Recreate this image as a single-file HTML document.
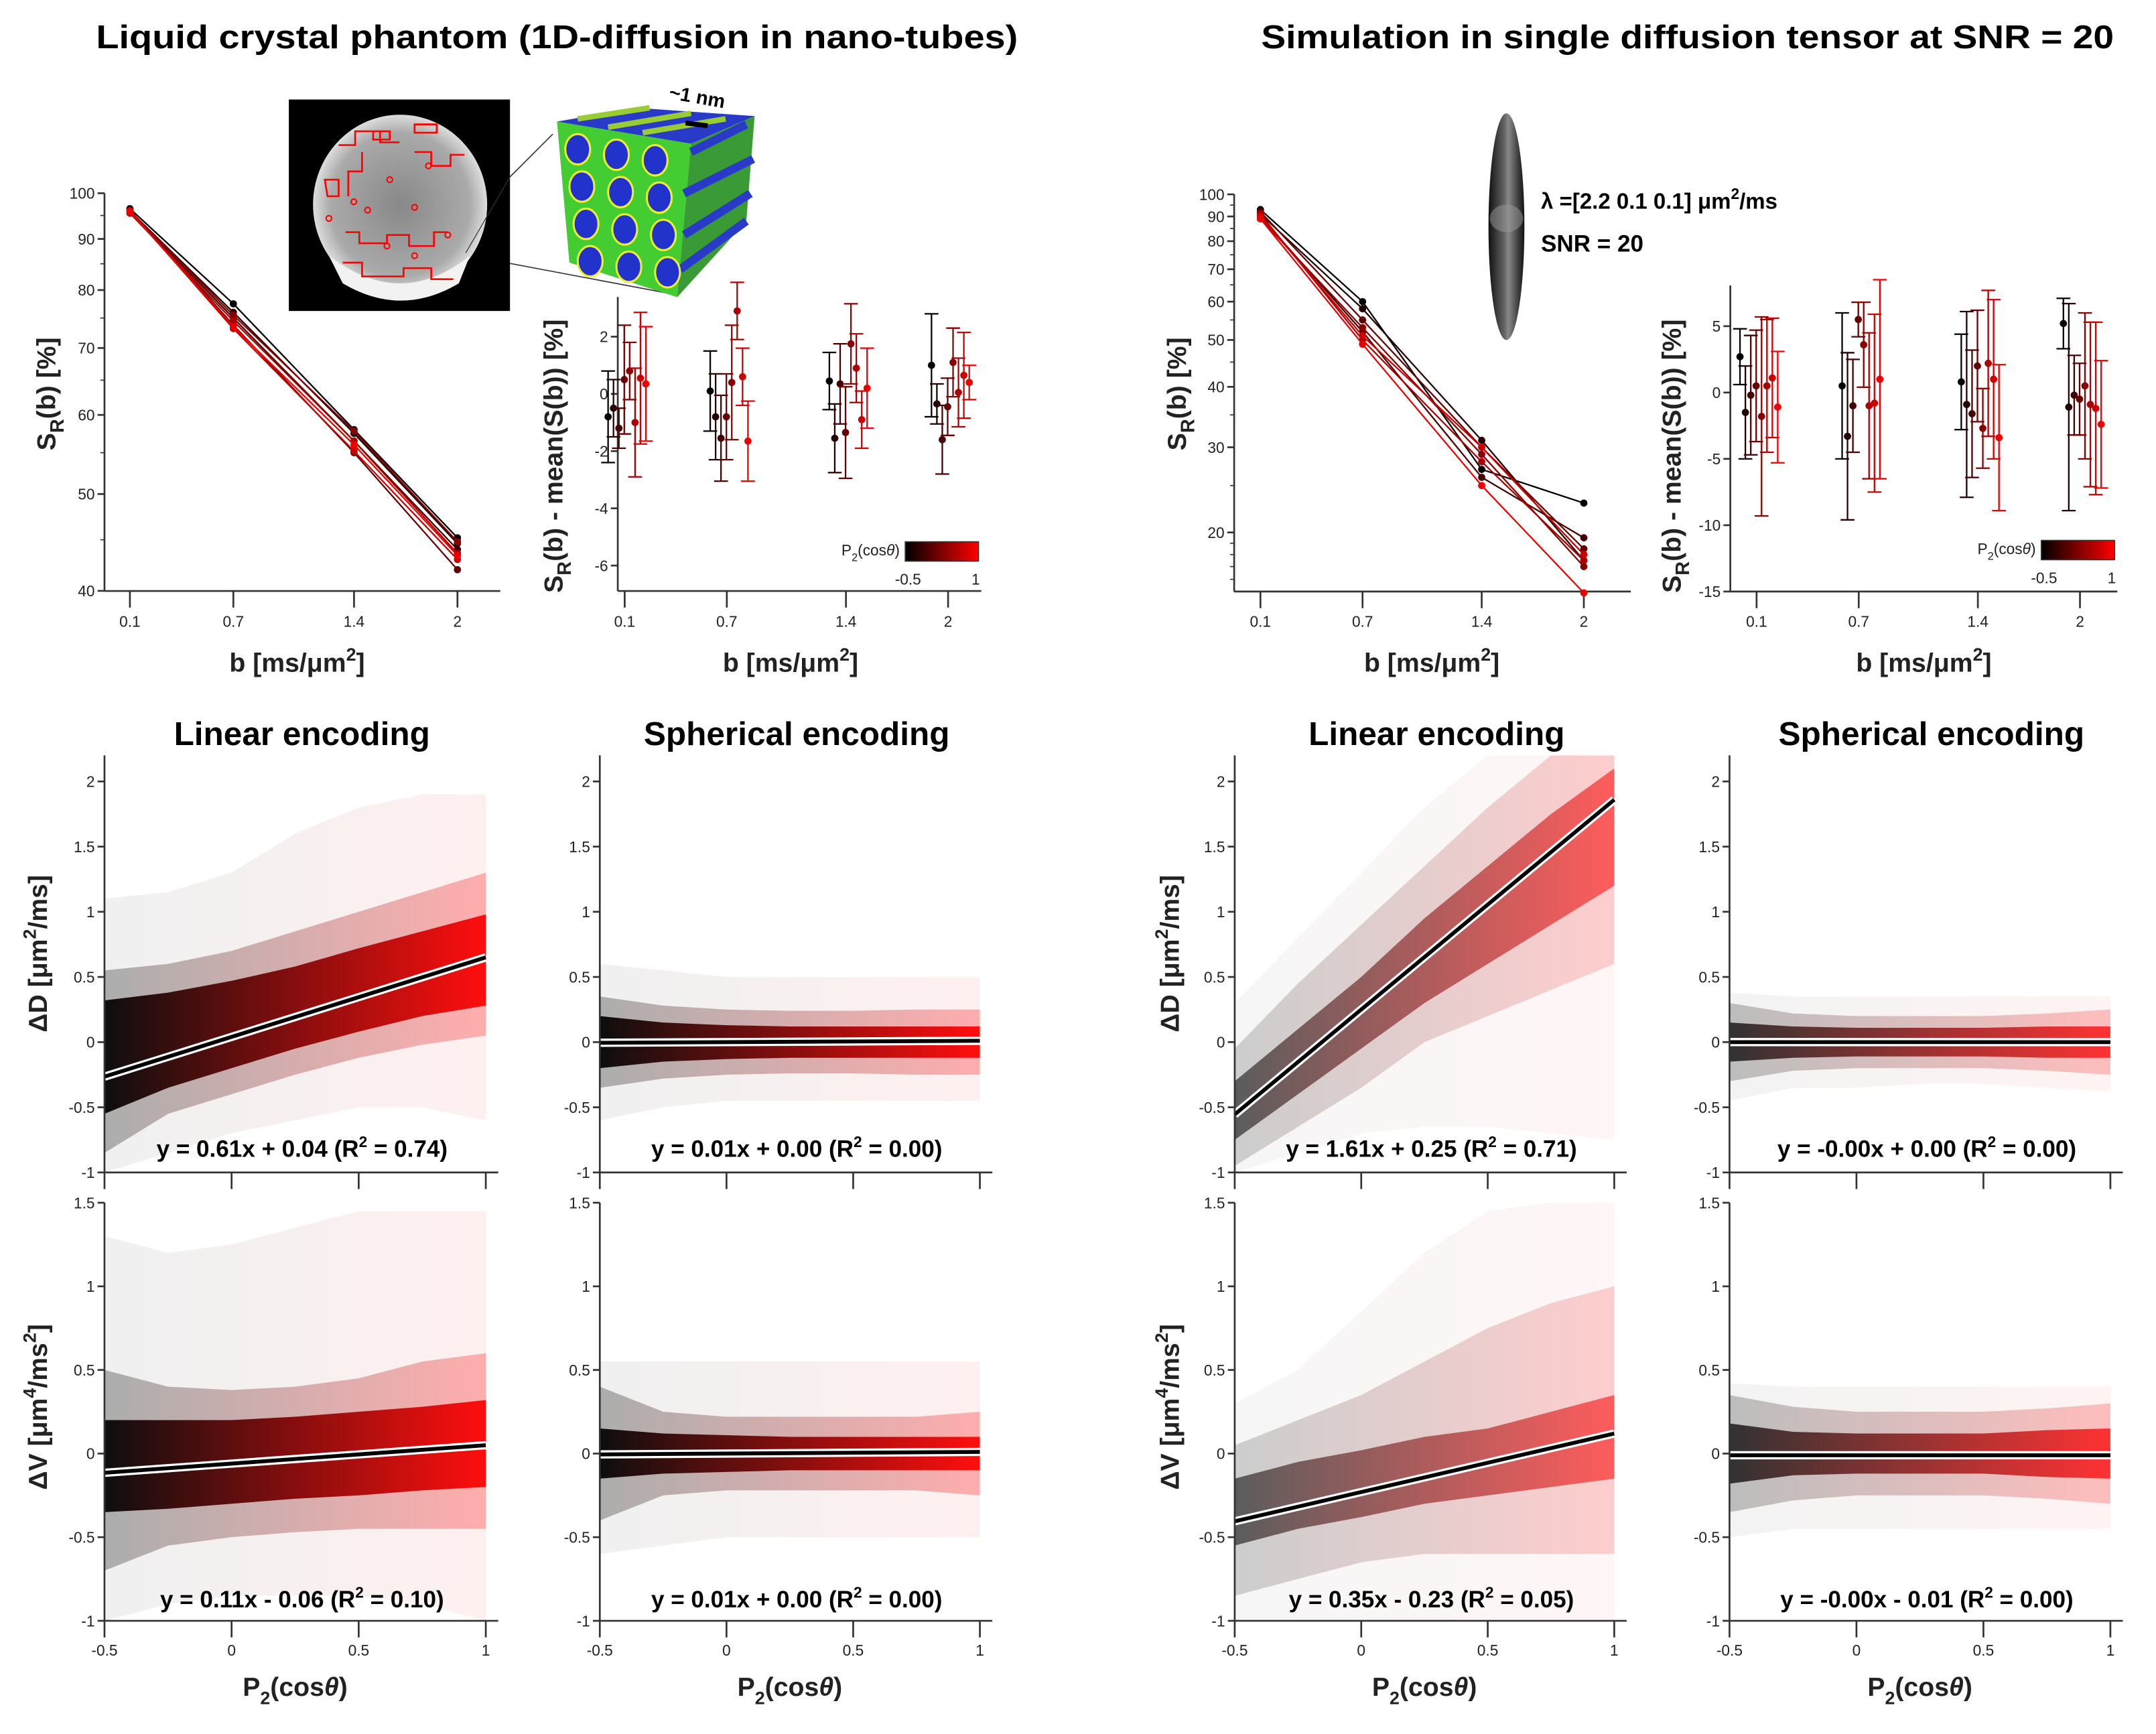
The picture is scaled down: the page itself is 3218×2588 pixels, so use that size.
<!DOCTYPE html>
<html><head><meta charset="utf-8"><style>
html,body{margin:0;padding:0;background:#fff;}
svg{display:block;}
text{font-family:"Liberation Sans",sans-serif;}
.tk{font-family:"Liberation Sans Narrow","Liberation Sans",sans-serif;font-size:11px;fill:#222;}
.ax{stroke:#333;stroke-width:1.3;fill:none;}
.lab{font-weight:bold;font-size:19px;fill:#222;}
.ttl{font-family:"Liberation Sans Narrow","Liberation Sans",sans-serif;font-weight:bold;font-size:24px;fill:#000;}
.eq{font-family:"Liberation Sans Narrow","Liberation Sans",sans-serif;font-weight:bold;font-size:17px;fill:#000;}
</style></head><body>
<svg id="fig" xmlns="http://www.w3.org/2000/svg" width="3218" height="2588" viewBox="0 0 1560 1254.6" preserveAspectRatio="none">
<defs>
<linearGradient id="gbr" x1="0" x2="1" y1="0" y2="0"><stop offset="0" stop-color="#000"/><stop offset="1" stop-color="#ff0000"/></linearGradient>
<linearGradient id="ell" x1="0" x2="1" y1="0" y2="0"><stop offset="0" stop-color="#111"/><stop offset="0.45" stop-color="#666"/><stop offset="0.55" stop-color="#888"/><stop offset="1" stop-color="#111"/></linearGradient>
<radialGradient id="disk" cx="0.5" cy="0.5" r="0.5"><stop offset="0" stop-color="#888"/><stop offset="0.8" stop-color="#aaa"/><stop offset="1" stop-color="#ddd"/></radialGradient>
</defs>
<g id="root"></g>
</svg>
<script>
// ---------- DATA ----------
const bVals = [0.1, 0.7, 1.4, 2];
const p2Colors = [-0.5, -0.3, -0.1, 0.1, 0.3, 0.5, 0.7, 0.9];
const lcSignal = [
 [96.5,77.5,58,45.2],[96,76,57.5,44.6],[95.8,75,56.5,44],[96.2,73.8,55,42],
 [96,75.5,57.8,44.8],[95.5,74.5,56.5,43.6],[96,73.2,55.2,43],[95.8,73.5,56,43.4]];
const simSignal = [
 [93,60,27,23],[91,58,31,17.5],[90,52,26,19.5],[92,55,30,18.5],
 [89,53,29,17],[91,50,28,17.5],[90,51,30,18],[89,49,25,15]];
const lcRes = [
 [-0.8,-0.5,-1.2,0.5,0.8,-1.0,0.55,0.35],
 [0.1,-0.8,-1.55,-0.8,0.4,2.9,0.6,-1.65],
 [0.45,-1.55,0.35,-1.35,1.75,0.9,-0.9,0.2],
 [1.0,-0.35,-1.6,-0.45,1.1,0.05,0.65,0.4]];
const lcErr = [
 [1.6,1.0,0.7,1.9,1.0,1.9,2.3,2.0],
 [1.4,1.5,1.5,1.5,2.0,1.0,1.0,1.4],
 [1.0,1.2,1.4,1.6,1.4,1.2,1.0,1.4],
 [1.8,0.7,1.2,1.0,1.2,1.2,1.5,0.6]];
const simRes = [
 [2.7,-1.5,-0.2,0.5,-1.8,0.5,1.1,-1.1],
 [0.5,-3.3,-1.0,5.5,3.6,-1.0,-0.8,1.0],
 [0.8,-0.9,-1.6,2.0,-2.7,2.2,1.0,-3.4],
 [5.2,-1.1,-0.2,-0.5,0.5,-0.9,-1.2,-2.4]];
const simErr = [
 [2.1,3.5,4.5,4.2,7.5,5.0,4.5,4.2],
 [5.5,6.3,3.5,1.3,3.2,5.5,6.7,7.5],
 [3.6,7.0,4.8,4.2,3.0,5.5,6.0,5.5],
 [1.9,7.8,3.0,2.7,5.5,6.2,6.5,4.8]];
const p2Grid = [-0.5,-0.25,0,0.25,0.5,0.75,1];
const slopes = [0.61,0.01,1.61,-0.00,0.11,0.01,0.35,-0.00];
const intercepts = [0.04,0.00,0.25,0.00,-0.06,0.00,-0.23,-0.01];
const eqLabels = ["y = 0.61x + 0.04  (R","y = 0.01x + 0.00  (R","y = 1.61x + 0.25  (R","y = -0.00x + 0.00  (R",
 "y = 0.11x - 0.06  (R","y = 0.01x + 0.00  (R","y = 0.35x - 0.23  (R","y = -0.00x - 0.01  (R"];
const eqR2 = [" = 0.74)"," = 0.00)"," = 0.71)"," = 0.00)"," = 0.10)"," = 0.00)"," = 0.05)"," = 0.00)"];
const coreLo = [
 [-0.55,-0.35,-0.2,-0.05,0.08,0.2,0.28],[-0.2,-0.15,-0.13,-0.12,-0.12,-0.12,-0.12],
 [-0.75,-0.4,-0.05,0.3,0.6,0.9,1.2],[-0.15,-0.12,-0.11,-0.11,-0.11,-0.12,-0.12],
 [-0.35,-0.33,-0.3,-0.27,-0.25,-0.22,-0.2],[-0.15,-0.12,-0.11,-0.1,-0.1,-0.1,-0.1],
 [-0.55,-0.45,-0.38,-0.3,-0.25,-0.2,-0.15],[-0.18,-0.13,-0.12,-0.12,-0.12,-0.14,-0.15]];
const coreHi = [
 [0.32,0.38,0.47,0.58,0.72,0.85,0.98],[0.2,0.15,0.13,0.12,0.12,0.12,0.12],
 [-0.3,0.1,0.5,0.95,1.35,1.75,2.1],[0.15,0.12,0.11,0.11,0.11,0.12,0.12],
 [0.2,0.2,0.2,0.22,0.25,0.28,0.32],[0.15,0.12,0.11,0.1,0.1,0.1,0.1],
 [-0.15,-0.05,0.02,0.1,0.15,0.25,0.35],[0.18,0.13,0.12,0.12,0.12,0.14,0.15]];
const midLo = [
 [-0.85,-0.55,-0.4,-0.25,-0.12,-0.02,0.05],[-0.35,-0.28,-0.25,-0.24,-0.24,-0.25,-0.25],
 [-0.95,-0.65,-0.35,0.0,0.2,0.4,0.6],[-0.3,-0.22,-0.2,-0.2,-0.2,-0.22,-0.25],
 [-0.7,-0.55,-0.5,-0.47,-0.45,-0.45,-0.45],[-0.4,-0.25,-0.22,-0.22,-0.22,-0.22,-0.25],
 [-0.85,-0.75,-0.65,-0.6,-0.6,-0.6,-0.6],[-0.35,-0.28,-0.25,-0.25,-0.25,-0.27,-0.3]];
const midHi = [
 [0.55,0.6,0.7,0.85,1.0,1.15,1.3],[0.35,0.28,0.25,0.24,0.24,0.25,0.25],
 [-0.05,0.45,0.9,1.35,1.8,2.2,2.2],[0.3,0.22,0.2,0.2,0.2,0.22,0.25],
 [0.5,0.4,0.38,0.4,0.45,0.55,0.6],[0.4,0.25,0.22,0.22,0.22,0.22,0.25],
 [0.05,0.2,0.35,0.55,0.75,0.9,1.0],[0.35,0.28,0.25,0.25,0.25,0.27,0.3]];
const outLo = [
 [-1,-0.85,-0.7,-0.6,-0.5,-0.5,-0.6],[-0.6,-0.5,-0.45,-0.45,-0.45,-0.45,-0.45],
 [-1,-0.85,-0.7,-0.65,-0.65,-0.7,-0.75],[-0.45,-0.35,-0.35,-0.32,-0.32,-0.35,-0.38],
 [-1,-0.9,-0.85,-0.85,-0.85,-0.9,-1],[-0.6,-0.55,-0.5,-0.5,-0.5,-0.5,-0.5],
 [-1,-1,-1,-1,-1,-1,-1],[-0.5,-0.45,-0.45,-0.45,-0.45,-0.45,-0.45]];
const outHi = [
 [1.1,1.15,1.3,1.6,1.8,1.9,1.9],[0.6,0.55,0.5,0.5,0.5,0.5,0.5],
 [0.3,0.8,1.3,1.8,2.2,2.2,2.2],[0.38,0.35,0.35,0.35,0.35,0.35,0.35],
 [1.3,1.2,1.25,1.35,1.45,1.45,1.45],[0.55,0.55,0.55,0.55,0.55,0.55,0.55],
 [0.3,0.5,0.85,1.2,1.45,1.5,1.5],[0.42,0.4,0.4,0.4,0.4,0.4,0.4]];

// ---------- HELPERS ----------
const NS="http://www.w3.org/2000/svg";
const root=document.getElementById('root');
function mk(tag,attrs,parent){const e=document.createElementNS(NS,tag);for(const k in attrs)e.setAttribute(k,attrs[k]);(parent||root).appendChild(e);return e;}
function col(p){const t=(p+0.5)/1.5;return `rgb(${Math.round(255*t)},0,0)`;}
function txt(x,y,s,cls,parent,anchor){const t=mk('text',{x:x,y:y,class:cls,'text-anchor':anchor||'middle'},parent);t.textContent=s;return t;}

let t;
t=txt(403,35,"Liquid crystal phantom (1D-diffusion in nano-tubes)","ttl");
t.setAttribute('textLength','667');t.setAttribute('lengthAdjust','spacingAndGlyphs');
t=txt(1221,35,"Simulation in single diffusion tensor at SNR = 20","ttl");
t.setAttribute('textLength','617');t.setAttribute('lengthAdjust','spacingAndGlyphs');

function signalPlot(name,L,R,B,x0,x1,yTop,decade,yTicks,minorTicks,data){
  const g=mk('g',{});
  
  
  const xs=b=>x0+(b-0.1)*(x1-x0)/1.9;
  const ys=v=>yTop+(2-Math.log10(v))*decade;
  mk('line',{x1:L,y1:ys(100),x2:L,y2:B,class:'ax'},g);
  mk('line',{x1:L,y1:B,x2:R,y2:B,class:'ax'},g);
  yTicks.forEach(v=>{mk('line',{x1:L-5,x2:L,y1:ys(v),y2:ys(v),class:'ax'},g);txt(L-7,ys(v)+4,String(v),'tk',g,'end');});
  minorTicks.forEach(v=>{mk('line',{x1:L-3,x2:L,y1:ys(v),y2:ys(v),stroke:'#333','stroke-width':0.8},g);});
  bVals.forEach(b=>{mk('line',{x1:xs(b),x2:xs(b),y1:B,y2:B+12,class:'ax'},g);txt(xs(b),453.5,String(b),'tk',g);});
  data.forEach((s,i)=>{
    const c=col(p2Colors[i]);
    const pl=mk('polyline',{points:s.map((v,j)=>xs(bVals[j])+','+ys(v)).join(' '),fill:'none',stroke:c,'stroke-width':1.1},g);
    
    
    s.forEach((v,j)=>{const d=mk('circle',{cx:xs(bVals[j]),cy:ys(v),r:2.6,fill:c},g);
      
      });
  });
  return g;
}
signalPlot('lc-signal-plot',75.6,362,427.6,94,331,139.8,723,[40,50,60,70,80,90,100],[45,55,65,75,85,95],lcSignal);
signalPlot('sim-signal-plot',893,1180,428,912,1146,140.6,350,[20,30,40,50,60,70,80,90,100],[16,17,18,19,25,35,45,55,65,75,85,95],simSignal);

function resPlot(name,L,R,B,top,x0,x1,y0,unit,ticks,valsArr,errArr,off){
  const g=mk('g',{});
  
  
  const xs=b=>x0+(b-0.1)*(x1-x0)/1.9;
  const ys=v=>y0-v*unit;
  mk('line',{x1:L,y1:top,x2:L,y2:B,class:'ax'},g);
  mk('line',{x1:L,y1:B,x2:R,y2:B,class:'ax'},g);
  ticks.forEach(v=>{mk('line',{x1:L-5,x2:L,y1:ys(v),y2:ys(v),class:'ax'},g);txt(L-7,ys(v)+4,String(v),'tk',g,'end');});
  bVals.forEach((b,j)=>{mk('line',{x1:xs(b),x2:xs(b),y1:B,y2:B+12,class:'ax'},g);txt(xs(b),453.5,String(b),'tk',g);
    valsArr[j].forEach((v,i)=>{
      const x=xs(b)+off[0]+i*off[1],c=col(p2Colors[i]),e=errArr[j][i];
      const eb=mk('path',{d:`M${x},${ys(v-e)}V${ys(v+e)}M${x-5},${ys(v-e)}H${x+5}M${x-5},${ys(v+e)}H${x+5}`,stroke:c,'stroke-width':1.1,fill:'none'},g);
      
      
      const d=mk('circle',{cx:x,cy:ys(v),r:2.6,fill:c},g);
      
      
    });});
  return g;
}
resPlot('lc-residual-plot',447,710,427.6,214.9,452,686,285,20.7,[-6,-4,-2,0,2],lcRes,lcErr,[-12,3.9]);
resPlot('sim-residual-plot',1252,1532,428,206.6,1271,1505,284,9.6,[-15,-10,-5,0,5],simRes,simErr,[-12,3.9]);

function cbar(x,y){
  const g=mk('g',{});
  
  
  mk('rect',{x:x,y:y,width:53,height:14,fill:'url(#gbr)',stroke:'#333','stroke-width':0.8},g);
  const l=mk('text',{x:x-4,y:y+10,class:'tk','text-anchor':'end'},g);
  l.innerHTML='P<tspan dy="4" font-size="8">2</tspan><tspan dy="-4">(cos</tspan><tspan font-style="italic">θ</tspan>)';
  txt(x+2,y+31,'-0.5','tk',g);txt(x+51,y+31,'1','tk',g);
}
cbar(655,392);cbar(1477,391);

function rotLabel(x,y,html,name){const tt=mk('text',{x:0,y:0,class:'lab','text-anchor':'middle',transform:`translate(${x},${y}) rotate(-90)`});tt.innerHTML=html;
  return tt;}
const srHTML='S<tspan dy="6" font-size="14">R</tspan><tspan dy="-6">(b) [%]</tspan>';
const resHTML='S<tspan dy="6" font-size="14">R</tspan><tspan dy="-6">(b) - mean(S(b)) [%]</tspan>';
rotLabel(40,285,srHTML,'lc-signal-y-label');
rotLabel(858,285,srHTML,'sim-signal-y-label');
rotLabel(407,330,resHTML,'lc-residual-y-label');
rotLabel(1216,330,resHTML,'sim-residual-y-label');
const bHTML='b [ms/μm<tspan dy="-8" font-size="13">2</tspan><tspan dy="8">]</tspan>';
[[215,'lc-signal-x-label'],[572,'lc-residual-x-label'],[1036,'sim-signal-x-label'],[1392,'sim-residual-x-label']].forEach(a=>{
  const tt=mk('text',{x:a[0],y:486,class:'lab','text-anchor':'middle'});tt.innerHTML=bHTML;
  });

(function(){
  const g=mk('g',{});
  
  
  mk('rect',{x:209,y:72,width:160,height:153,fill:'#000'},g);
  mk('ellipse',{cx:289.5,cy:148,rx:63,ry:65,fill:'url(#disk)'},g);
  mk('path',{d:'M238,185 Q290,225 340,185 L332,205 Q290,230 248,205 Z',fill:'#f2f2f2'},g);
  mk('path',{d:'M250,168 h10 v8 h20 v-6 h16 v8 h18 v-10 h10 M248,190 h14 v10 h30 v-6 h20 v8 h16 M245,105 h12 v-10 h18 v8 h14 M262,110 v14 h-10 v18 M235,130 h10 v12 h-8 z M300,90 h16 v6 h-16 z M270,95 h12 v6 h-12 z M300,110 h12 v10 h14 v-8 h10',stroke:'#f00','stroke-width':1.3,fill:'none'},g);
  [[256,146],[266,152],[282,130],[300,150],[324,170],[238,158],[310,120],[280,178],[300,185]].forEach(p=>mk('circle',{cx:p[0],cy:p[1],r:2,fill:'none',stroke:'#f00','stroke-width':1},g));
  mk('line',{x1:369,y1:128,x2:400,y2:97,stroke:'#333','stroke-width':0.8},g);
  mk('line',{x1:369,y1:190.6,x2:488,y2:213,stroke:'#333','stroke-width':0.8},g);
  mk('line',{x1:337,y1:183,x2:369,y2:128,stroke:'#333','stroke-width':0.6},g);
  const c=mk('g',{},g);
  
  
  mk('polygon',{points:'403,88 460,78 546,84 500,104',fill:'#2a3ac8'},c);
  [[418,86,470,78],[440,92,500,82],[465,96,525,86]].forEach(l=>mk('line',{x1:l[0],y1:l[1],x2:l[2],y2:l[3],stroke:'#9c3','stroke-width':4},c));
  mk('polygon',{points:'403,88 500,104 490,215 412,190',fill:'#4c3'},c);
  mk('polygon',{points:'500,104 546,84 540,160 490,215',fill:'#3a9a35'},c);
  [[540,90,500,110],[545,115,495,140],[543,140,495,170],[540,160,492,195]].forEach(l=>mk('line',{x1:l[0],y1:l[1],x2:l[2],y2:l[3],stroke:'#2a3ac8','stroke-width':6},c));
  for(let r=0;r<4;r++)for(let k=0;k<3;k++)mk('ellipse',{cx:418+k*28+r*3,cy:108+r*27+k*4,rx:9,ry:11,fill:'#2233cc',stroke:'#ee3','stroke-width':1.5},c);
  mk('line',{x1:496,y1:89,x2:512,y2:91,stroke:'#000','stroke-width':3.5},g);
  mk('text',{x:484,y:74,'font-size':14,'font-weight':'bold',transform:'rotate(10 500 70)'},g).textContent='~1 nm';
})();

(function(){
  const g=mk('g',{});
  
  
  mk('ellipse',{cx:1090,cy:164,rx:13,ry:82,fill:'url(#ell)'},g);
  mk('ellipse',{cx:1090,cy:158,rx:12,ry:10,fill:'#999','opacity':0.5},g);
  const l1=mk('text',{x:1115,y:151,'font-size':16,'font-weight':'bold',fill:'#000','font-family':'Liberation Sans Narrow, Liberation Sans, sans-serif'});
  l1.innerHTML='λ =[2.2  0.1  0.1] μm<tspan dy="-7" font-size="11">2</tspan><tspan dy="7">/ms</tspan>';
  
  const l2=mk('text',{x:1115,y:182,'font-size':17,'font-weight':'bold',fill:'#000','font-family':'Liberation Sans Narrow, Liberation Sans, sans-serif'});
  l2.textContent='SNR = 20';
})();

const colX=[[75.6,351.5],[434,709],[893.4,1168],[1251.4,1527]];
const rows=[{y0:754,unit:94.3,top:2.2,ticks:[-1,-0.5,0,0.5,1,1.5,2],eqY:837},{y0:1051.7,unit:121,top:1.5,ticks:[-1,-0.5,0,0.5,1,1.5],eqY:1163}];
const titles=[[218.5,'Linear encoding'],[576.5,'Spherical encoding'],[1039.5,'Linear encoding'],[1397.5,'Spherical encoding']];
const density=[1,1,0.6,0.8];
titles.forEach((tt,i)=>{const e=txt(tt[0],539,tt[1],'ttl');e.setAttribute('font-size','22');
  });
for(let r=0;r<2;r++)for(let c=0;c<4;c++){
  const k=r*4+c,[xa,xb]=colX[c],row=rows[r];
  const g=mk('g',{});
  
  
  const xs=p=>xa+(p+0.5)*(xb-xa)/1.5;
  const ys=v=>row.y0-Math.max(-1,Math.min(row.top,v))*row.unit;
  const B=ys(-1);
  const clipId='cl'+k;
  const cp=mk('clipPath',{id:clipId},g);mk('rect',{x:xa,y:ys(row.top),width:xb-xa,height:B-ys(row.top)},cp);
  const band=(lo,hi,op,nm)=>{const pts=p2Grid.map((p,j)=>xs(p)+','+ys(hi[k][j])).concat(p2Grid.slice().reverse().map((p,j)=>xs(p)+','+ys(lo[k][p2Grid.length-1-j])));
    const e=mk('polygon',{points:pts.join(' '),fill:'url(#gbr)',opacity:op,'clip-path':`url(#${clipId})`},g);
    };
  band(outLo,outHi,0.06*density[c],'scatter-sparse-cloud');
  band(midLo,midHi,0.28*density[c],'scatter-mid-cloud');
  band(coreLo,coreHi,0.92*density[c],'scatter-dense-cloud');
  const fy=p=>ys(slopes[k]*p+intercepts[k]);
  mk('line',{x1:xs(-0.5),y1:fy(-0.5),x2:xs(1),y2:fy(1),stroke:'#fff','stroke-width':6},g);
  const fl=mk('line',{x1:xs(-0.5),y1:fy(-0.5),x2:xs(1),y2:fy(1),stroke:'#000','stroke-width':2.8},g);
  
  mk('line',{x1:xa,y1:ys(row.top),x2:xa,y2:B,class:'ax'},g);
  mk('line',{x1:xa,y1:B,x2:xb+9,y2:B,class:'ax'},g);
  row.ticks.forEach(v=>{mk('line',{x1:xa-5,x2:xa,y1:ys(v),y2:ys(v),class:'ax'},g);txt(xa-7,ys(v)+4,String(v),'tk',g,'end');});
  [-0.5,0,0.5,1].forEach(p=>{mk('line',{x1:xs(p),x2:xs(p),y1:B,y2:B+12,class:'ax'},g);if(r===1)txt(xs(p),1198,String(p),'tk',g);});
  const eq=mk('text',{x:(xa+xb)/2+5,y:row.eqY,class:'eq','text-anchor':'middle'},g);
  eq.innerHTML=eqLabels[k]+'<tspan dy="-7" font-size="11">2</tspan><tspan dy="7">'+eqR2[k]+'</tspan>';
  
  if(r===1){const xl=mk('text',{x:(xa+xb)/2,y:1227,class:'lab','text-anchor':'middle'},g);
    xl.innerHTML='P<tspan dy="6" font-size="13">2</tspan><tspan dy="-6">(cos</tspan><tspan font-style="italic">θ</tspan>)';
    }
}
rotLabel(34,690,'ΔD [μm<tspan dy="-8" font-size="13">2</tspan><tspan dy="8">/ms]</tspan>','dd-y-label-left');
rotLabel(853,690,'ΔD [μm<tspan dy="-8" font-size="13">2</tspan><tspan dy="8">/ms]</tspan>','dd-y-label-right');
rotLabel(34,1018,'ΔV [μm<tspan dy="-8" font-size="13">4</tspan><tspan dy="8">/ms</tspan><tspan dy="-8" font-size="13">2</tspan><tspan dy="8">]</tspan>','dv-y-label-left');
rotLabel(853,1018,'ΔV [μm<tspan dy="-8" font-size="13">4</tspan><tspan dy="8">/ms</tspan><tspan dy="-8" font-size="13">2</tspan><tspan dy="8">]</tspan>','dv-y-label-right');
</script>
</body></html>
